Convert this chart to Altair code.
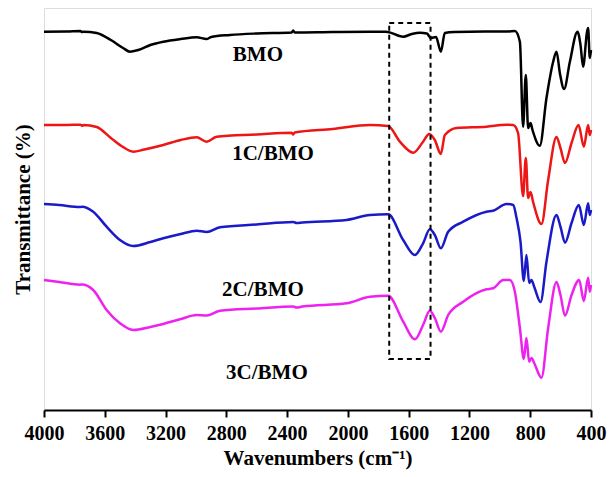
import altair as alt
import pandas as pd

# ---------------- data ----------------
series_names = ["BMO", "1C/BMO", "2C/BMO", "3C/BMO"]
series_colors = ["#000000", "#ee1515", "#1a1ac8", "#ee22ee"]

bmo_wn = [4000, 3850, 3760, 3750, 3740, 3653, 3560, 3480, 3434, 3380,
          3300, 3215, 3100, 2995, 2930, 2900, 2776, 2600, 2370, 2360,
          2350, 2100, 1855, 1750, 1636, 1580, 1526, 1480, 1454, 1420,
          1388, 1362, 1300, 1100, 950, 901, 868, 847, 829, 814,
          798, 785, 737, 693, 649, 627, 605, 577, 539, 489,
          469, 452, 426, 419, 408, 400]
bmo_t = [378.3, 378.5, 379, 378, 378.3, 377, 370, 362, 358.3, 360,
         365, 368.3, 371, 372.7, 371, 373, 375, 376.5, 377.5, 379.5,
         377.5, 378, 378.3, 378.3, 373.3, 376, 377.3, 376.5, 372, 373,
         358.3, 377, 378, 378.5, 378.5, 379, 368.3, 283.3, 335, 282,
         287, 280, 264.3, 312, 348.3, 358.3, 337, 321, 348.3, 378.3,
         365, 343.3, 378.3, 382, 352, 360]

c1_wn = [4000, 3850, 3760, 3750, 3740, 3653, 3560, 3480, 3413, 3340,
         3215, 3100, 2995, 2930, 2864, 2600, 2370, 2360, 2350, 2100,
         1855, 1735, 1658, 1570, 1505, 1465, 1428, 1388, 1362, 1285,
         1088, 956, 912, 880, 847, 829, 814, 798, 781, 726,
         682, 627, 601, 571, 528, 482, 447, 419, 408, 400]
c1_t = [285, 285, 285.3, 284.3, 285, 283, 272, 263, 258.3, 260.5,
        265, 270, 272.7, 268.3, 273.3, 275.5, 277.3, 275.5, 277.5, 281,
        285, 284, 268.3, 257.3, 268.3, 276, 270, 256, 275, 282,
        283.3, 285.3, 285, 277, 214, 252, 212, 218, 208, 186,
        230, 273, 262, 247, 267, 285, 263.3, 285, 275, 280]

c2_wn = [4000, 3900, 3763, 3750, 3676, 3588, 3500, 3413, 3300, 3215,
         3100, 2995, 2930, 2842, 2600, 2360, 2337, 2300, 2009, 1855,
         1735, 1636, 1559, 1505, 1461, 1428, 1388, 1340, 1241, 1088,
         1044, 956, 912, 890, 864, 842, 825, 807, 792, 774,
         732, 693, 627, 601, 571, 528, 480, 447, 419, 408,
         400]
c2_t = [206, 205, 203, 203.3, 198.3, 183.3, 170, 164, 168, 171.7,
        176, 179.3, 178, 182.7, 185.5, 188, 187, 187.5, 190, 195,
        195.7, 170, 155, 166.7, 180.7, 175, 161.7, 178.3, 188.3, 198.3,
        199.3, 206, 205, 192, 168.3, 129, 155, 127, 130, 123.3,
        108, 148.3, 195, 183.3, 167.3, 187, 205, 185, 206.7, 195,
        200]

c3_wn = [4000, 3900, 3763, 3750, 3676, 3588, 3500, 3413, 3300, 3215,
         3100, 2995, 2930, 2842, 2600, 2360, 2337, 2300, 2009, 1855,
         1735, 1636, 1559, 1505, 1461, 1428, 1388, 1340, 1241, 1088,
         1044, 978, 934, 901, 868, 842, 825, 807, 792, 774,
         726, 682, 627, 601, 571, 528, 478, 447, 419, 408,
         400]
c3_t = [130, 128, 125.3, 125.5, 120, 100, 86.7, 80, 83, 86,
        91, 95, 94.5, 99.3, 101.5, 103.5, 102.5, 103.5, 106.7, 113.3,
        114.3, 88.3, 70.7, 85, 99.3, 92, 78.3, 95, 108.3, 120.7,
        121.7, 130, 130, 118.3, 82, 51, 72, 48.3, 52, 47,
        32.3, 82, 128, 115, 94.3, 115, 130, 109, 132.3, 118.3,
        125]

label_wn = [2592, 2493, 2559, 2533]
label_t = [355, 256, 120, 37]

box_wn = [1728, 1456]
box_t = [387, 51]

# every 200 cm-1 a tick; every 400 cm-1 a labelled (longer) tick
tick_values = [4000, 3800, 3600, 3400, 3200, 3000, 2800, 2600, 2400, 2200,
               2000, 1800, 1600, 1400, 1200, 1000, 800, 600, 400]

# ---------------- tables ----------------
frames = []
for name, wn, t in zip(series_names, [bmo_wn, c1_wn, c2_wn, c3_wn],
                       [bmo_t, c1_t, c2_t, c3_t]):
    frames.append(pd.DataFrame({"wn": wn, "T": t, "series": name}))
spec_df = pd.concat(frames, ignore_index=True)
label_df = pd.DataFrame({"wn": label_wn, "T": label_t, "series": series_names})
box_df = pd.DataFrame({"wn": [box_wn[0]], "wn2": [box_wn[1]],
                       "T": [box_t[0]], "T2": [box_t[1]]})

FONT = "Liberation Serif"
xscale = alt.Scale(domain=[4000, 400], nice=False, zero=False)
yscale = alt.Scale(domain=[0, 402], nice=False, zero=False)

y_axis = alt.Axis(title="Transmittance (%)", labels=False, ticks=False,
                  domain=False, grid=False, titleFont=FONT, titleFontSize=21,
                  titleFontWeight="bold", titleColor="black",
                  titleAngle=-90, titleX=-21, titleY=201,
                  titleAlign="center", titleBaseline="middle")

x_axis = alt.Axis(title="Wavenumbers (cm\u207b\u00b9)", values=tick_values,
                  tickSize={"condition": {"test": "datum.value % 400 === 0",
                                          "value": 7}, "value": 3.5},
                  tickWidth=2, tickColor="black",
                  domainWidth=2, domainColor="black",
                  labelFont=FONT, labelFontSize=20, labelFontWeight="bold",
                  labelColor="black", labelPadding=6, labelFlush=False,
                  labelExpr="datum.value % 400 === 0 ? datum.label : ''",
                  titleFont=FONT, titleFontSize=21, titleFontWeight="bold",
                  titleColor="black", titlePadding=4, grid=False,
                  format="d", orient="bottom")

lines = alt.Chart(spec_df).mark_line(
    strokeWidth=2.5, interpolate="monotone"
).encode(
    x=alt.X("wn:Q", scale=xscale, axis=x_axis),
    y=alt.Y("T:Q", scale=yscale, axis=y_axis),
    color=alt.Color("series:N", scale=alt.Scale(domain=series_names,
                                                range=series_colors),
                    legend=None),
    detail="series:N",
)

box = alt.Chart(box_df).mark_rect(
    filled=False, stroke="black", strokeWidth=2, strokeDash=[5, 4]
).encode(
    x=alt.X("wn:Q", scale=xscale),
    x2="wn2:Q",
    y=alt.Y("T:Q", scale=yscale),
    y2="T2:Q",
)

labels = alt.Chart(label_df).mark_text(
    font=FONT, fontSize=21, fontWeight="bold", color="black",
    align="center", baseline="middle"
).encode(
    x=alt.X("wn:Q", scale=xscale),
    y=alt.Y("T:Q", scale=yscale),
    text="series:N",
)

chart = alt.layer(lines, box, labels).properties(
    width=547, height=402,
    autosize=alt.AutoSizeParams(type="none"),
    padding={"left": 44, "top": 8, "right": 20, "bottom": 67},
).configure_view(stroke="black", strokeWidth=2).configure(background="white")

chart.save("out.html", embed_options={"renderer": "svg", "actions": False})
